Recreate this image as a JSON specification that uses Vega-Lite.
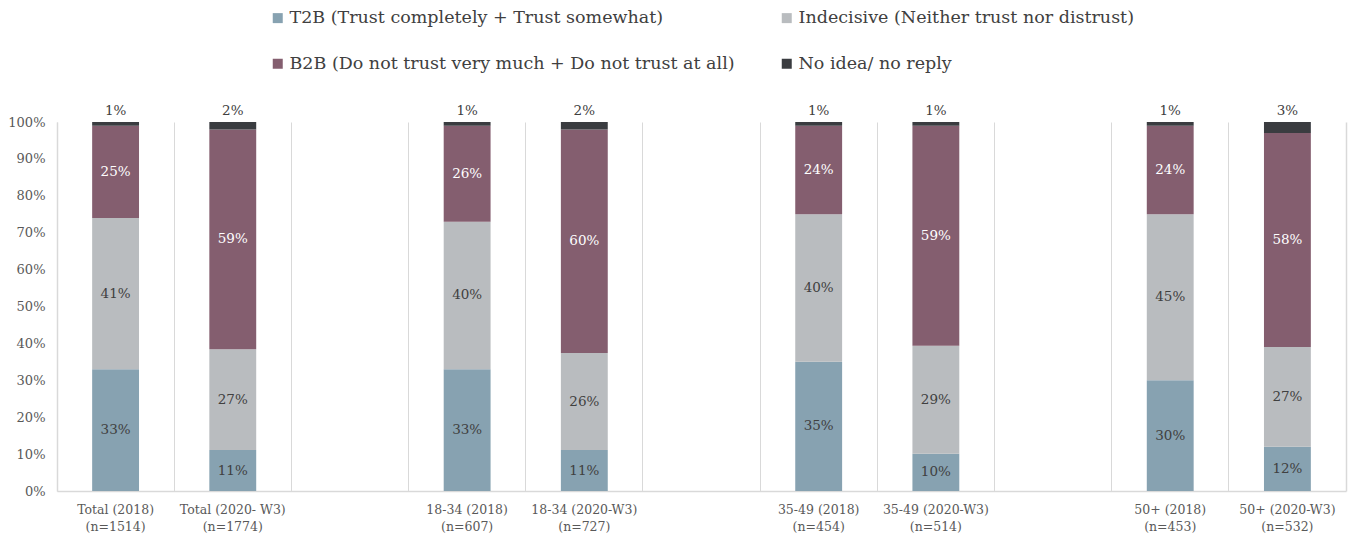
{
  "$schema": "https://vega.github.io/schema/vega-lite/v6.json",
  "autosize": {"type": "none"},
  "padding": {"left": 57, "top": 122, "right": 6, "bottom": 48},
  "width": 1289,
  "height": 369,
  "background": "white",
  "config": {
    "view": {"stroke": null},
    "font": "DejaVu Serif",
    "text": {"font": "DejaVu Serif"}
  },
  "data": {
    "values": [
      {"cat": "Total (2018)|(n=1514)", "series": "T2B (Trust completely + Trust somewhat)", "k": 1, "value": 0.33},
      {"cat": "Total (2018)|(n=1514)", "series": "Indecisive (Neither trust nor distrust)", "k": 2, "value": 0.41},
      {"cat": "Total (2018)|(n=1514)", "series": "B2B (Do not trust very much + Do not trust at all)", "k": 3, "value": 0.25},
      {"cat": "Total (2018)|(n=1514)", "series": "No idea/ no reply", "k": 4, "value": 0.01},
      {"cat": "Total (2020- W3)|(n=1774)", "series": "T2B (Trust completely + Trust somewhat)", "k": 1, "value": 0.11},
      {"cat": "Total (2020- W3)|(n=1774)", "series": "Indecisive (Neither trust nor distrust)", "k": 2, "value": 0.27},
      {"cat": "Total (2020- W3)|(n=1774)", "series": "B2B (Do not trust very much + Do not trust at all)", "k": 3, "value": 0.59},
      {"cat": "Total (2020- W3)|(n=1774)", "series": "No idea/ no reply", "k": 4, "value": 0.02},
      {"cat": "18-34 (2018)|(n=607)", "series": "T2B (Trust completely + Trust somewhat)", "k": 1, "value": 0.33},
      {"cat": "18-34 (2018)|(n=607)", "series": "Indecisive (Neither trust nor distrust)", "k": 2, "value": 0.40},
      {"cat": "18-34 (2018)|(n=607)", "series": "B2B (Do not trust very much + Do not trust at all)", "k": 3, "value": 0.26},
      {"cat": "18-34 (2018)|(n=607)", "series": "No idea/ no reply", "k": 4, "value": 0.01},
      {"cat": "18-34 (2020-W3)|(n=727)", "series": "T2B (Trust completely + Trust somewhat)", "k": 1, "value": 0.11},
      {"cat": "18-34 (2020-W3)|(n=727)", "series": "Indecisive (Neither trust nor distrust)", "k": 2, "value": 0.26},
      {"cat": "18-34 (2020-W3)|(n=727)", "series": "B2B (Do not trust very much + Do not trust at all)", "k": 3, "value": 0.60},
      {"cat": "18-34 (2020-W3)|(n=727)", "series": "No idea/ no reply", "k": 4, "value": 0.02},
      {"cat": "35-49 (2018)|(n=454)", "series": "T2B (Trust completely + Trust somewhat)", "k": 1, "value": 0.35},
      {"cat": "35-49 (2018)|(n=454)", "series": "Indecisive (Neither trust nor distrust)", "k": 2, "value": 0.40},
      {"cat": "35-49 (2018)|(n=454)", "series": "B2B (Do not trust very much + Do not trust at all)", "k": 3, "value": 0.24},
      {"cat": "35-49 (2018)|(n=454)", "series": "No idea/ no reply", "k": 4, "value": 0.01},
      {"cat": "35-49 (2020-W3)|(n=514)", "series": "T2B (Trust completely + Trust somewhat)", "k": 1, "value": 0.10},
      {"cat": "35-49 (2020-W3)|(n=514)", "series": "Indecisive (Neither trust nor distrust)", "k": 2, "value": 0.29},
      {"cat": "35-49 (2020-W3)|(n=514)", "series": "B2B (Do not trust very much + Do not trust at all)", "k": 3, "value": 0.59},
      {"cat": "35-49 (2020-W3)|(n=514)", "series": "No idea/ no reply", "k": 4, "value": 0.01},
      {"cat": "50+ (2018)|(n=453)", "series": "T2B (Trust completely + Trust somewhat)", "k": 1, "value": 0.30},
      {"cat": "50+ (2018)|(n=453)", "series": "Indecisive (Neither trust nor distrust)", "k": 2, "value": 0.45},
      {"cat": "50+ (2018)|(n=453)", "series": "B2B (Do not trust very much + Do not trust at all)", "k": 3, "value": 0.24},
      {"cat": "50+ (2018)|(n=453)", "series": "No idea/ no reply", "k": 4, "value": 0.01},
      {"cat": "50+ (2020-W3)|(n=532)", "series": "T2B (Trust completely + Trust somewhat)", "k": 1, "value": 0.12},
      {"cat": "50+ (2020-W3)|(n=532)", "series": "Indecisive (Neither trust nor distrust)", "k": 2, "value": 0.27},
      {"cat": "50+ (2020-W3)|(n=532)", "series": "B2B (Do not trust very much + Do not trust at all)", "k": 3, "value": 0.58},
      {"cat": "50+ (2020-W3)|(n=532)", "series": "No idea/ no reply", "k": 4, "value": 0.03}
    ]
  },
  "transform": [
    {"stack": "value", "groupby": ["cat"], "sort": [{"field": "k", "order": "ascending"}], "offset": "normalize", "as": ["y0", "y1"]},
    {"calculate": "(datum.y0 + datum.y1) / 2", "as": "ymid"}
  ],
  "encoding": {
    "x": {
      "field": "cat",
      "type": "nominal",
      "sort": null,
      "scale": {
        "domain": ["Total (2018)|(n=1514)", "Total (2020- W3)|(n=1774)", " ", "18-34 (2018)|(n=607)", "18-34 (2020-W3)|(n=727)", "  ", "35-49 (2018)|(n=454)", "35-49 (2020-W3)|(n=514)", "   ", "50+ (2018)|(n=453)", "50+ (2020-W3)|(n=532)"],
        "paddingInner": 0,
        "paddingOuter": 0
      },
      "axis": {
        "title": null,
        "labelAngle": 0,
        "labelExpr": "split(datum.label, '|')",
        "labelFont": "DejaVu Serif",
        "labelFontSize": 12.5,
        "labelColor": "#595959",
        "labelLineHeight": 17,
        "labelPadding": 12,
        "labelBaseline": "top",
        "ticks": false,
        "grid": true,
        "gridColor": "#d9d9d9",
        "gridWidth": 1,
        "bandPosition": 0,
        "domainColor": "#d9d9d9",
        "domainWidth": 1.5
      }
    }
  },
  "resolve": {"axis": {"y": "independent"}},
  "layer": [
    {
      "mark": {"type": "bar", "width": {"band": 0.4}},
      "encoding": {
        "y": {
          "field": "y0",
          "type": "quantitative",
          "scale": {"domain": [0, 1], "nice": false},
          "axis": {
            "title": null,
            "format": ".0%",
            "values": [0, 0.1, 0.2, 0.3, 0.4, 0.5, 0.6, 0.7, 0.8, 0.9, 1],
            "grid": false,
            "ticks": false,
            "labelFont": "DejaVu Serif",
            "labelFontSize": 13,
            "labelColor": "#595959",
            "labelPadding": 12,
            "domainColor": "#d9d9d9",
            "domainWidth": 1.5
          }
        },
        "y2": {"field": "y1"},
        "color": {
          "field": "series",
          "type": "nominal",
          "scale": {
            "domain": ["T2B (Trust completely + Trust somewhat)", "Indecisive (Neither trust nor distrust)", "B2B (Do not trust very much + Do not trust at all)", "No idea/ no reply"],
            "range": ["#87a2b1", "#b9bcbf", "#845e6f", "#3a3c40"]
          },
          "legend": {
            "title": null,
            "orient": "none",
            "legendX": 212,
            "legendY": -113,
            "columns": 2,
            "direction": "horizontal",
            "symbolType": "square",
            "symbolSize": 100,
            "symbolStrokeWidth": 0,
            "labelFont": "DejaVu Serif",
            "labelFontSize": 17.5,
            "labelColor": "#404040",
            "labelOffset": 3,
            "labelLimit": 700,
            "columnPadding": 43,
            "rowPadding": 27
          }
        }
      }
    },
    {
      "transform": [{"filter": "datum.k < 4"}],
      "mark": {"type": "text", "font": "DejaVu Serif", "fontSize": 13.5, "baseline": "middle"},
      "encoding": {
        "y": {"field": "ymid", "type": "quantitative", "axis": null},
        "text": {"field": "value", "type": "quantitative", "format": ".0%"},
        "color": {"condition": {"test": "datum.k == 3", "value": "#ffffff"}, "value": "#404040"}
      }
    },
    {
      "transform": [{"filter": "datum.k == 4"}],
      "mark": {"type": "text", "font": "DejaVu Serif", "fontSize": 13.5, "baseline": "middle", "dy": -11, "color": "#404040"},
      "encoding": {
        "y": {
          "field": "y1",
          "type": "quantitative",
          "axis": {"orient": "right", "title": null, "labels": false, "ticks": false, "grid": false, "domainColor": "#d9d9d9", "domainWidth": 1.5}
        },
        "text": {"field": "value", "type": "quantitative", "format": ".0%"}
      }
    }
  ]
}
